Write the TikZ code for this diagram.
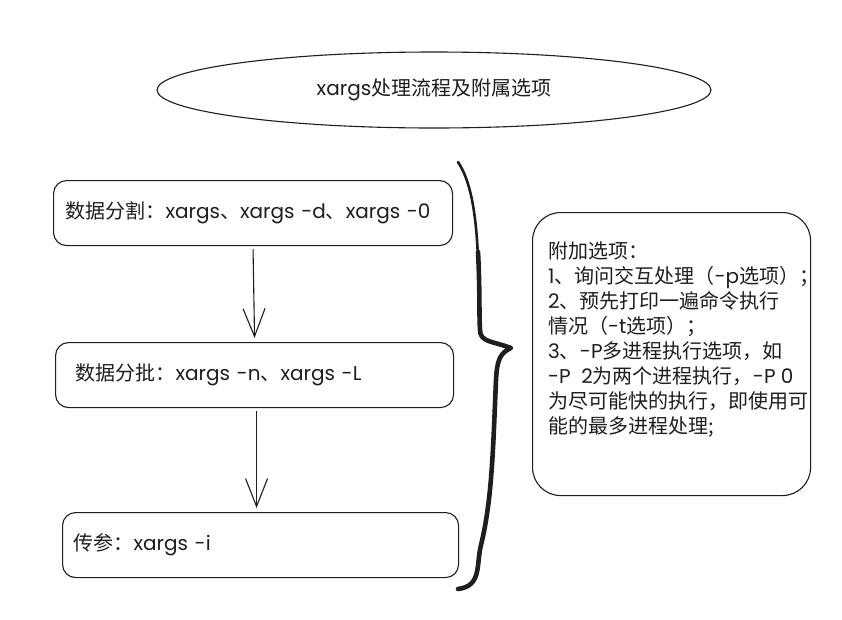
\documentclass[tikz,border=0pt]{standalone}
\usepackage{fontspec}
\setmainfont{Noto Sans CJK SC}
\newfontfamily\lat{Poppins}
\newcommand{\la}[1]{{\lat #1}}
\usetikzlibrary{arrows.meta,shapes.geometric}
\definecolor{ink}{HTML}{1E1E1E}
\begin{document}
\begin{tikzpicture}[x=1pt,y=-1pt,
  every node/.style={font=\fontsize{20}{25}\selectfont, text=ink},
  stagebox/.style={draw=ink, line width=1.1pt, rounded corners=13pt, minimum height=65pt, align=left, inner ysep=0pt, anchor=north west},
  arr/.style={draw=ink, line width=1.1pt, -{Straight Barb[length=28pt,width=22pt,line width=1.1pt]}},
  bracestroke/.style={draw=ink, line cap=round, line join=round},
]
\useasboundingbox (0,0) rectangle (842,619);
\fill[white] (0,0) rectangle (842,619);

\node[ellipse, draw=ink, line width=1.1pt, minimum width=554pt, minimum height=76pt, inner sep=0pt] (title) at (434,90) {\la{xargs}处理流程及附属选项};

\node[stagebox, text width=375pt, inner xsep=12pt] (b1) at (53,180) {数据分割：\la{xargs}、\la{xargs -d}、\la{xargs -0}};
\node[stagebox, text width=358pt, inner xsep=20pt] (b2) at (55,342) {数据分批：\la{xargs -n}、\la{xargs -L}};
\node[stagebox, text width=374pt, inner xsep=11pt] (b3) at (62,512) {传参：\la{xargs -i}};

\draw[arr] ([yshift=-3pt]b1.south) -- ([yshift=4pt]b2.north);
\draw[arr] ([xshift=2pt,yshift=-3pt]b2.south) -- ([xshift=-4pt,yshift=4pt]b3.north);

\node[draw=ink, line width=1.1pt, rounded corners=28pt, minimum width=278pt, minimum height=283pt, anchor=north west, inner sep=0pt] (opts) at (532,212) {};
\node[anchor=north west, align=left, inner sep=0pt] (optstext) at (548,242) {附加选项：\\\la{1}、询问交互处理（\la{-p}选项）；\\\la{2}、预先打印一遍命令执行\\情况（\la{-t}选项）；\\\la{3}、\la{-P}多进程执行选项，如\\\la{-P\ \ 2}为两个进程执行，\la{-P 0}\\为尽可能快的执行，即使用可\\能的最多进程处理;};

\draw[bracestroke, line width=2.6pt] (458,162) .. controls (470,180) and (476,210) .. (478,258);
\draw[bracestroke, line width=4.6pt] (478,252) .. controls (480,290) and (479,315) .. (480,330)
  .. controls (480,342) and (492,341) .. (511,348)
  .. controls (500,353) and (497,360) .. (496,380)
  .. controls (493,450) and (492,500) .. (481,545)
  .. controls (476,565) and (482,586) .. (458,589);
\end{tikzpicture}
\end{document}
